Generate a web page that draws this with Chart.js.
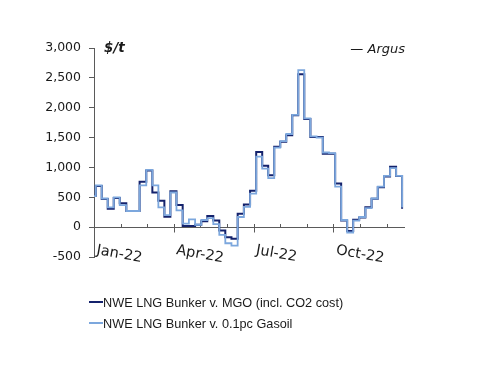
<!DOCTYPE html>
<html><head><meta charset="utf-8">
<script src="https://cdn.jsdelivr.net/npm/chart.js@4.4.1/dist/chart.umd.min.js"></script>
<style>html,body{margin:0;padding:0;background:#fff}#wrap{width:500px;height:386px;position:relative}</style>
</head><body><div id="wrap"><canvas id="c" width="500" height="386"></canvas></div>
<script>
// Weekly observation dates (Mondays)
const weeks = ["2021-12-27",
 "2022-01-03","2022-01-10","2022-01-17","2022-01-24","2022-01-31",
 "2022-02-07","2022-02-14","2022-02-21","2022-02-28",
 "2022-03-07","2022-03-14","2022-03-21","2022-03-28",
 "2022-04-04","2022-04-11","2022-04-18","2022-04-25",
 "2022-05-02","2022-05-09","2022-05-16","2022-05-23","2022-05-30",
 "2022-06-06","2022-06-13","2022-06-20","2022-06-27",
 "2022-07-04","2022-07-11","2022-07-18","2022-07-25",
 "2022-08-01","2022-08-08","2022-08-15","2022-08-22","2022-08-29",
 "2022-09-05","2022-09-12","2022-09-19","2022-09-26",
 "2022-10-03","2022-10-10","2022-10-17","2022-10-24","2022-10-31",
 "2022-11-07","2022-11-14","2022-11-21","2022-11-28",
 "2022-12-05","2022-12-12","2022-12-19"];
// NWE LNG Bunker v. MGO (incl. CO2 cost), $/t
const mgoSpread = [520,
 690,470,310,490,400,
 270,270,760,950,
 580,440,175,600,
 370,20,20,40,
 100,185,110,-55,-170,
 -195,225,380,610,
 1260,1030,870,1345,
 1430,1540,1875,2560,1810,
 1510,1510,1230,1230,
 730,110,-65,125,160,
 335,475,670,850,
 1010,855,310];
// NWE LNG Bunker v. 0.1pc Gasoil, $/t
const gasoilSpread = [520,
 700,480,330,500,370,
 270,270,700,960,
 700,330,200,580,
 280,60,130,40,
 120,150,50,-130,-270,
 -310,170,340,560,
 1180,980,820,1330,
 1440,1560,1880,2630,1820,
 1520,1500,1250,1240,
 680,120,-90,110,170,
 320,480,680,860,
 990,860,330];
const seriesNames = ["NWE LNG Bunker v. MGO (incl. CO2 cost)", "NWE LNG Bunker v. 0.1pc Gasoil"];
const seriesColors = ["#14226c", "#7ca7dd"];
const yTicks = [-500, 0, 500, 1000, 1500, 2000, 2500, 3000];
const xLabels = ["Jan-22", "Apr-22", "Jul-22", "Oct-22"];
const xLabelMonths = [0, 3, 6, 9];
const monthTicks = [1,2,3,4,5,6,7,8,9,10,11];
const unitText = "$/t";
const sourceText = "\u2014 Argus";

function monthPos(s) {
  const [y, m, d] = s.split("-").map(Number);
  const days = new Date(y, m, 0).getDate();
  return (y - 2022) * 12 + (m - 1) + (d - 1) / days;
}

const axisColor = "#5a5a5a";
const textColor = "#1a1a1a";

const decor = {
  id: "decor",
  beforeDatasetsDraw(chart) {
    const {ctx, chartArea: a, scales: {x, y}} = chart;
    const y0 = Math.round(y.getPixelForValue(0)) + 0.5;
    ctx.save();
    ctx.strokeStyle = axisColor;
    ctx.lineWidth = 1;
    ctx.beginPath();
    ctx.moveTo(a.left, y0); ctx.lineTo(a.right, y0);
    monthTicks.forEach(m => {
      const px = Math.round(x.getPixelForValue(m)) + 0.5;
      const big = xLabelMonths.includes(m);
      ctx.moveTo(px, y0 - 3.5); ctx.lineTo(px, y0 + (big ? 5 : 0));
    });
    ctx.stroke();
    ctx.restore();
  },
  afterDraw(chart) {
    const {ctx, chartArea: a, scales: {x, y}} = chart;
    ctx.save();
    ctx.fillStyle = textColor;
    // rotated month labels
    ctx.font = "14.5px 'DejaVu Sans'";
    ctx.textAlign = "left";
    ctx.textBaseline = "alphabetic";
    xLabels.forEach((t, i) => {
      const px = x.getPixelForValue(xLabelMonths[i]) + 2;
      ctx.save();
      ctx.translate(px, 254);
      ctx.rotate(10 * Math.PI / 180);
      ctx.fillText(t, 0, 0);
      ctx.restore();
    });
    // unit and source
    ctx.font = "bold oblique 13.5px 'DejaVu Sans'";
    ctx.fillText(unitText, a.left + 10, 52);
    ctx.font = "oblique 13px 'DejaVu Sans'";
    ctx.textAlign = "right";
    ctx.fillText(sourceText, a.right, 53);
    // legend
    ctx.textAlign = "left";
    ctx.textBaseline = "alphabetic";
    ctx.font = "12.7px 'Liberation Sans'";
    chart.data.datasets.forEach((ds, i) => {
      const ly = 302 + i * 21;
      ctx.strokeStyle = ds.borderColor;
      ctx.lineWidth = 2;
      ctx.beginPath();
      ctx.moveTo(89, ly); ctx.lineTo(103, ly);
      ctx.stroke();
      ctx.fillText(ds.label, 103, ly + 4.5);
    });
    ctx.restore();
  }
};

new Chart(document.getElementById("c"), {
  type: "line",
  data: {
    datasets: [
      {label: seriesNames[0], data: weeks.map((w, i) => ({x: monthPos(w), y: mgoSpread[i]})),
       borderColor: seriesColors[0], borderWidth: 2, stepped: "before", pointRadius: 0, fill: false, order: 1},
      {label: seriesNames[1], data: weeks.map((w, i) => ({x: monthPos(w), y: gasoilSpread[i]})),
       borderColor: seriesColors[1], borderWidth: 1.8, stepped: "before", pointRadius: 0, fill: false, order: 0}
    ]
  },
  options: {
    responsive: false, animation: false, devicePixelRatio: 1,
    layout: {padding: {left: 0, top: 48, right: 95, bottom: 129}},
    plugins: {legend: {display: false}, tooltip: {enabled: false}},
    scales: {
      x: {type: "linear", min: 0, max: 11.69, display: false},
      y: {
        min: -500, max: 3000,
        afterBuildTicks: s => { s.ticks = yTicks.map(v => ({value: v})); },
        afterFit: s => { s.width = 94; },
        border: {display: true, color: axisColor, width: 1},
        grid: {drawOnChartArea: false, drawTicks: true, tickLength: 5, color: axisColor},
        ticks: {padding: 8, color: textColor, font: {family: "DejaVu Sans", size: 12.5},
                callback: v => v.toLocaleString("en-US")}
      }
    }
  },
  plugins: [decor]
});
</script></body></html>
